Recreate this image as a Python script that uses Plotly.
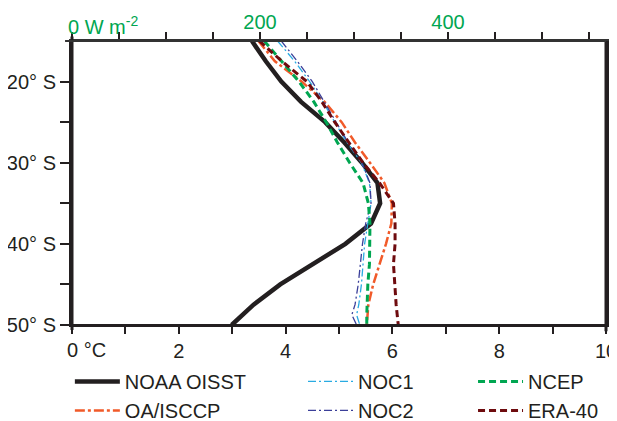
import plotly.graph_objects as go

# Latitude (degrees south)
lat = [15, 17.5, 20, 22.5, 25, 27.5, 30, 32.5, 35, 37.5, 40, 42.5, 45, 47.5, 48.75, 50]

noaa_oisst = [3.37, 3.63, 3.92, 4.29, 4.74, 5.10, 5.43, 5.72, 5.77, 5.60, 5.12, 4.50, 3.90, 3.40, 3.20, 2.99]
oa_isccp   = [3.49, 3.80, 4.30, 4.73, 5.05, 5.30, 5.58, 5.85, 5.99, 5.98, 5.88, 5.76, 5.64, 5.55, 5.53, 5.52]
noc1       = [3.85, 4.17, 4.45, 4.70, 4.92, 5.15, 5.42, 5.57, 5.60, 5.54, 5.48, 5.45, 5.42, 5.37, 5.33, 5.39]
noc2       = [3.92, 4.22, 4.50, 4.72, 4.95, 5.17, 5.43, 5.58, 5.60, 5.50, 5.44, 5.40, 5.36, 5.30, 5.24, 5.33]
ncep       = [3.60, 3.93, 4.25, 4.53, 4.76, 4.97, 5.20, 5.45, 5.55, 5.58, 5.58, 5.57, 5.54, 5.52, 5.52, 5.52]
era40      = [3.51, 3.93, 4.40, 4.68, 4.92, 5.18, 5.45, 5.76, 6.02, 6.05, 6.05, 6.02, 6.04, 6.07, 6.09, 6.11]

lat_ticks = [20, 25, 30, 35, 40, 45, 50]
lat_labels = ["20° S", "", "30° S", "", "40° S", "", "50° S"]
t_ticks = list(range(0, 11))
t_labels = ["", "", "2", "", "4", "", "6", "", "8", "", "10"]
w_ticks = list(range(0, 551, 50))
w_labels = ["" if v not in (200, 400) else str(v) for v in w_ticks]

FONT = "Liberation Sans, Arial, sans-serif"
FS = 20
GREEN = "#00A651"
INK = "#231F20"

fig = go.Figure()

def add(name, x, color, width, dash, legend):
    fig.add_trace(go.Scatter(x=x, y=lat, mode="lines", name=name,
                             line=dict(color=color, width=width, dash=dash),
                             legend=legend))

add("NOAA OISST", noaa_oisst, INK, 4.5, "solid", "legend")
add("OA/ISCCP", oa_isccp, "#F15A29", 2.5, "10px,3px,3px,3px", "legend")
add("NOC1", noc1, "#29ABE2", 1.3, "8px,3px,2px,3px", "legend2")
add("NOC2", noc2, "#3B3F99", 1.3, "8px,3px,2px,3px", "legend2")
add("NCEP", ncep, GREEN, 3, "7px,4px", "legend3")
add("ERA-40", era40, "#6E0B0E", 3, "7px,4px", "legend3")

# dummy trace to activate top axis
fig.add_trace(go.Scatter(x=[None], y=[None], xaxis="x2", showlegend=False, hoverinfo="skip"))

legend_common = dict(font=dict(family=FONT, size=FS, color=INK), bgcolor="rgba(0,0,0,0)",
                     orientation="v", xanchor="left", yanchor="top", tracegroupgap=0,
                     itemwidth=45)

# The page body has an 8px margin, so the figure is sized to fit the rest of the window
fig.update_layout(
    width=609, height=413,
    margin=dict(l=64, r=11, t=33, b=96, autoexpand=False),
    paper_bgcolor="white", plot_bgcolor="white",
    font=dict(family=FONT, size=FS, color=INK),
    xaxis=dict(range=[0, 10], tickvals=t_ticks, ticktext=t_labels,
               ticks="outside", ticklen=7, tickwidth=2, tickcolor=INK,
               ticklabeloverflow="allow",
               showline=True, linecolor=INK, linewidth=2, showgrid=False, zeroline=False,
               tickfont=dict(family=FONT, size=FS, color=INK)),
    xaxis2=dict(range=[0, 568], overlaying="x", side="top", anchor="y",
                tickvals=w_ticks, ticktext=w_labels,
                ticks="outside", ticklen=7, tickwidth=2, tickcolor=INK,
                ticklabeloverflow="allow", ticklabelstandoff=-5,
                showline=True, linecolor="#333333", linewidth=2, showgrid=False, zeroline=False,
                tickfont=dict(family=FONT, size=FS, color=GREEN)),
    yaxis=dict(range=[50, 15], tickvals=lat_ticks, ticktext=lat_labels,
               ticks="outside", ticklen=9, tickwidth=2, tickcolor=INK,
               showline=True, linecolor=INK, linewidth=3, mirror="allticks",
               showgrid=False, zeroline=False,
               tickfont=dict(family=FONT, size=FS, color=INK)),
    legend=dict(x=-0.004, y=-0.13, **legend_common),
    legend2=dict(x=0.4326, y=-0.13, **legend_common),
    legend3=dict(x=0.751, y=-0.13, **legend_common),
)

# frame lines extend slightly past the plot corners, as in the original figure
fig.add_shape(type="line", xref="paper", yref="paper", x0=0, x1=0, y0=-0.018, y1=1.016,
              line=dict(color=INK, width=3))
fig.add_shape(type="line", xref="paper", yref="paper", x0=1, x1=1, y0=-0.022, y1=1.0,
              line=dict(color=INK, width=3))
fig.add_shape(type="line", xref="paper", yref="paper", x0=-0.013, x1=1.0, y0=1, y1=1,
              line=dict(color="#333333", width=2))
fig.add_shape(type="line", xref="paper", yref="paper", x0=0, x1=1.02, y0=0, y1=0,
              line=dict(color=INK, width=2))

fig.add_annotation(text="0 °C", x=0, y=0, xref="x", yref="paper", xanchor="left", yanchor="top",
                   xshift=-7, yshift=-12, showarrow=False,
                   font=dict(family=FONT, size=FS, color=INK))
fig.add_annotation(text="0 W m<sup>-2</sup>", x=0, y=1, xref="x2", yref="paper", xanchor="left",
                   yanchor="bottom", xshift=-6, yshift=1, showarrow=False,
                   font=dict(family=FONT, size=FS, color=GREEN))

fig.write_html("out.html")
